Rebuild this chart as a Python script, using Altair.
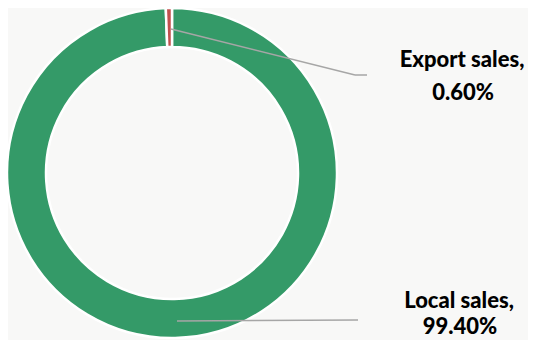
import altair as alt
import pandas as pd

categories = ["Local sales", "Export sales"]
shares = [99.40, 0.60]
colors = ["#349A68", "#C0504D"]
label_line1 = ["Local sales,", "Export sales,"]
label_line2 = ["99.40%", "0.60%"]

df = pd.DataFrame({"cat": categories, "share": shares, "order": [0, 1]})

W, H = 520, 332
CX, CY = 164, 165

donut = alt.Chart(df).mark_arc(
    innerRadius=126, outerRadius=165, stroke="white", strokeWidth=2.5
).encode(
    theta=alt.Theta("share:Q", stack=True),
    order=alt.Order("order:Q"),
    color=alt.Color("cat:N", scale=alt.Scale(domain=categories, range=colors), legend=None),
    x=alt.value(CX),
    y=alt.value(CY),
)

lines_df = pd.DataFrame({
    "x": [163, 347, 169], "y": [21, 67, 313],
    "x2": [347, 359, 350], "y2": [67, 67, 312],
})
leaders = alt.Chart(lines_df).mark_rule(color="#A6A6A6", strokeWidth=1.5).encode(
    x=alt.X("x:Q", scale=alt.Scale(domain=[0, W], range=[0, W]), axis=None),
    x2="x2:Q",
    y=alt.Y("y:Q", scale=alt.Scale(domain=[0, H], range=[0, H]), axis=None),
    y2="y2:Q",
)

text_df = pd.DataFrame({
    "t": [label_line1[1], label_line2[1], label_line1[0], label_line2[0]],
    "x": [454, 455, 451, 452],
    "y": [59, 92, 300, 326],
})
labels = alt.Chart(text_df).mark_text(
    font="Lato", fontWeight=900, fontSize=22, color="#000000",
    align="center", baseline="alphabetic",
).encode(
    x=alt.X("x:Q", scale=alt.Scale(domain=[0, W], range=[0, W]), axis=None),
    y=alt.Y("y:Q", scale=alt.Scale(domain=[0, H], range=[0, H]), axis=None),
    text="t:N",
)

chart = alt.layer(donut, leaders, labels).resolve_scale(
    x="shared", y="shared"
).properties(
    width=W, height=H, padding=0, autosize=alt.AutoSizeParams(type="none"),
    background="#F8F8F7",
).configure_view(stroke=None)

chart.save("out.html", embed_options={"renderer": "svg", "actions": False})
